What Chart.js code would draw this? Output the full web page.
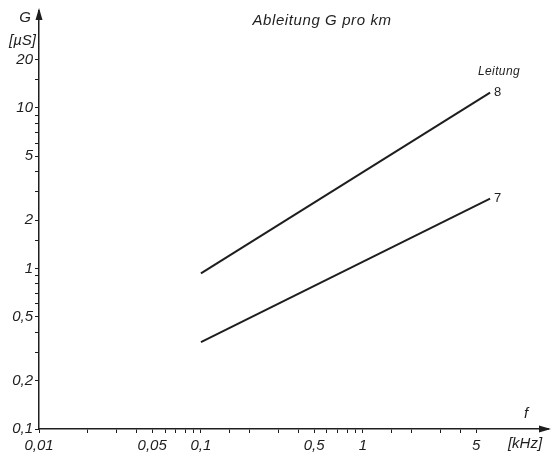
<!DOCTYPE html>
<html>
<head>
<meta charset="utf-8">
<script src="https://cdn.jsdelivr.net/npm/chart.js@4/dist/chart.umd.min.js"></script>
<style>
html,body{margin:0;padding:0;background:#fff;}
#wrap{width:552px;height:454px;}
</style>
</head>
<body>
<div id="wrap"><canvas id="c" width="552" height="454"></canvas></div>
<script>
// Data (frequency in kHz, conductance G in µS per km)
const freqKHz = [0.1, 6.1];
const leitung8 = [0.93, 12.4];
const leitung7 = [0.347, 2.72];
const seriesNames = ["8", "7"];
const xTickLabels = [0.01, 0.05, 0.1, 0.5, 1, 5];
const yTickLabels = [0.1, 0.2, 0.5, 1, 2, 5, 10, 20];
const titleText = "Ableitung G pro km";
const yAxisName = "G";
const yAxisUnit = "[\u00b5S]";
const xAxisName = "f";
const xAxisUnit = "[kHz]";
const legendTitle = "Leitung";

const INK = "#1e1e1e";
const FONT = "Liberation Sans";

function fmt(v){ return String(v).replace('.', ','); }
function isLabel(v, list){ return list.some(t => Math.abs(t - v) < 1e-9 * Math.max(1, t)); }

const series = [leitung8, leitung7];
const datasets = series.map((vals, i) => ({
  label: seriesNames[i],
  data: freqKHz.map((f, j) => ({x: f, y: vals[j]})),
  borderColor: INK,
  borderWidth: 2,
  pointRadius: 0,
  showLine: true,
  fill: false
}));

const decor = {
  id: 'decor',
  afterDraw(chart){
    const ctx = chart.ctx;
    const xs = chart.scales.x, ys = chart.scales.y;
    const ca = chart.chartArea;
    ctx.save();
    ctx.fillStyle = INK;
    ctx.strokeStyle = INK;
    // arrow heads
    ctx.beginPath();
    ctx.moveTo(ca.left, ca.top - 3);
    ctx.lineTo(ca.left - 3.5, ca.top + 9);
    ctx.lineTo(ca.left + 3.5, ca.top + 9);
    ctx.closePath(); ctx.fill();
    ctx.beginPath();
    ctx.moveTo(ca.right + 3, ca.bottom);
    ctx.lineTo(ca.right - 9, ca.bottom - 3.5);
    ctx.lineTo(ca.right - 9, ca.bottom + 3.5);
    ctx.closePath(); ctx.fill();

    ctx.font = "italic 15px '" + FONT + "'";
    ctx.textBaseline = 'middle';
    ctx.textAlign = 'right';
    ctx.fillText(yAxisName, 31, 18);
    ctx.fillText(yAxisUnit, 36, 41);
    ctx.textAlign = 'center';
    ctx.fillText(xAxisName, 526, 414);
    ctx.fillText(xAxisUnit, 525, 444);

    // title
    ctx.font = "italic 15px '" + FONT + "'";
    ctx.letterSpacing = "0.6px";
    ctx.textAlign = 'center';
    ctx.fillText(titleText, 322, 21);
    ctx.letterSpacing = "0px";

    // series labels at line ends
    ctx.font = "italic 12px '" + FONT + "'";
    ctx.letterSpacing = "0.4px";
    ctx.textAlign = 'center';
    ctx.fillText(legendTitle, 499, 72);
    ctx.letterSpacing = "0px";
    ctx.font = "13px '" + FONT + "'";
    ctx.textAlign = 'left';
    series.forEach((vals, i) => {
      const px = xs.getPixelForValue(freqKHz[freqKHz.length - 1]);
      const py = ys.getPixelForValue(vals[vals.length - 1]);
      ctx.fillText(seriesNames[i], px + 4, py);
    });
    ctx.restore();
  }
};

new Chart(document.getElementById('c'), {
  type: 'scatter',
  data: { datasets },
  options: {
    responsive: false,
    animation: false,
    layout: { padding: { left: 0, right: 4, top: 10, bottom: 0 } },
    plugins: { legend: { display: false }, tooltip: { enabled: false }, title: { display: false } },
    scales: {
      x: {
        type: 'logarithmic',
        min: 0.01,
        max: 13.9,
        afterBuildTicks(s){ s.ticks = s.ticks.filter(t => t.value <= 5.0001); },
        afterFit(s){ s.height = 25; },
        border: { display: true, color: INK, width: 1.5 },
        grid: { display: true, drawOnChartArea: false, drawTicks: true, tickLength: 4, color: INK },
        ticks: {
          autoSkip: false, maxRotation: 0, padding: 4,
          color: INK,
          font: { family: FONT, size: 15, style: 'italic' },
          callback(v){ return isLabel(v, xTickLabels) ? fmt(v) : ''; }
        }
      },
      y: {
        type: 'logarithmic',
        min: 0.1,
        max: 40,
        afterBuildTicks(s){ s.ticks = s.ticks.filter(t => t.value <= 20.0001); },
        afterFit(s){ s.width = 39; },
        border: { display: true, color: INK, width: 1.5 },
        grid: { display: true, drawOnChartArea: false, drawTicks: true, tickLength: 4, color: INK },
        ticks: {
          autoSkip: false, padding: 2,
          color: INK,
          font: { family: FONT, size: 15, style: 'italic' },
          callback(v){ return isLabel(v, yTickLabels) ? fmt(v) : ''; }
        }
      }
    }
  },
  plugins: [decor]
});
</script>
</body>
</html>
